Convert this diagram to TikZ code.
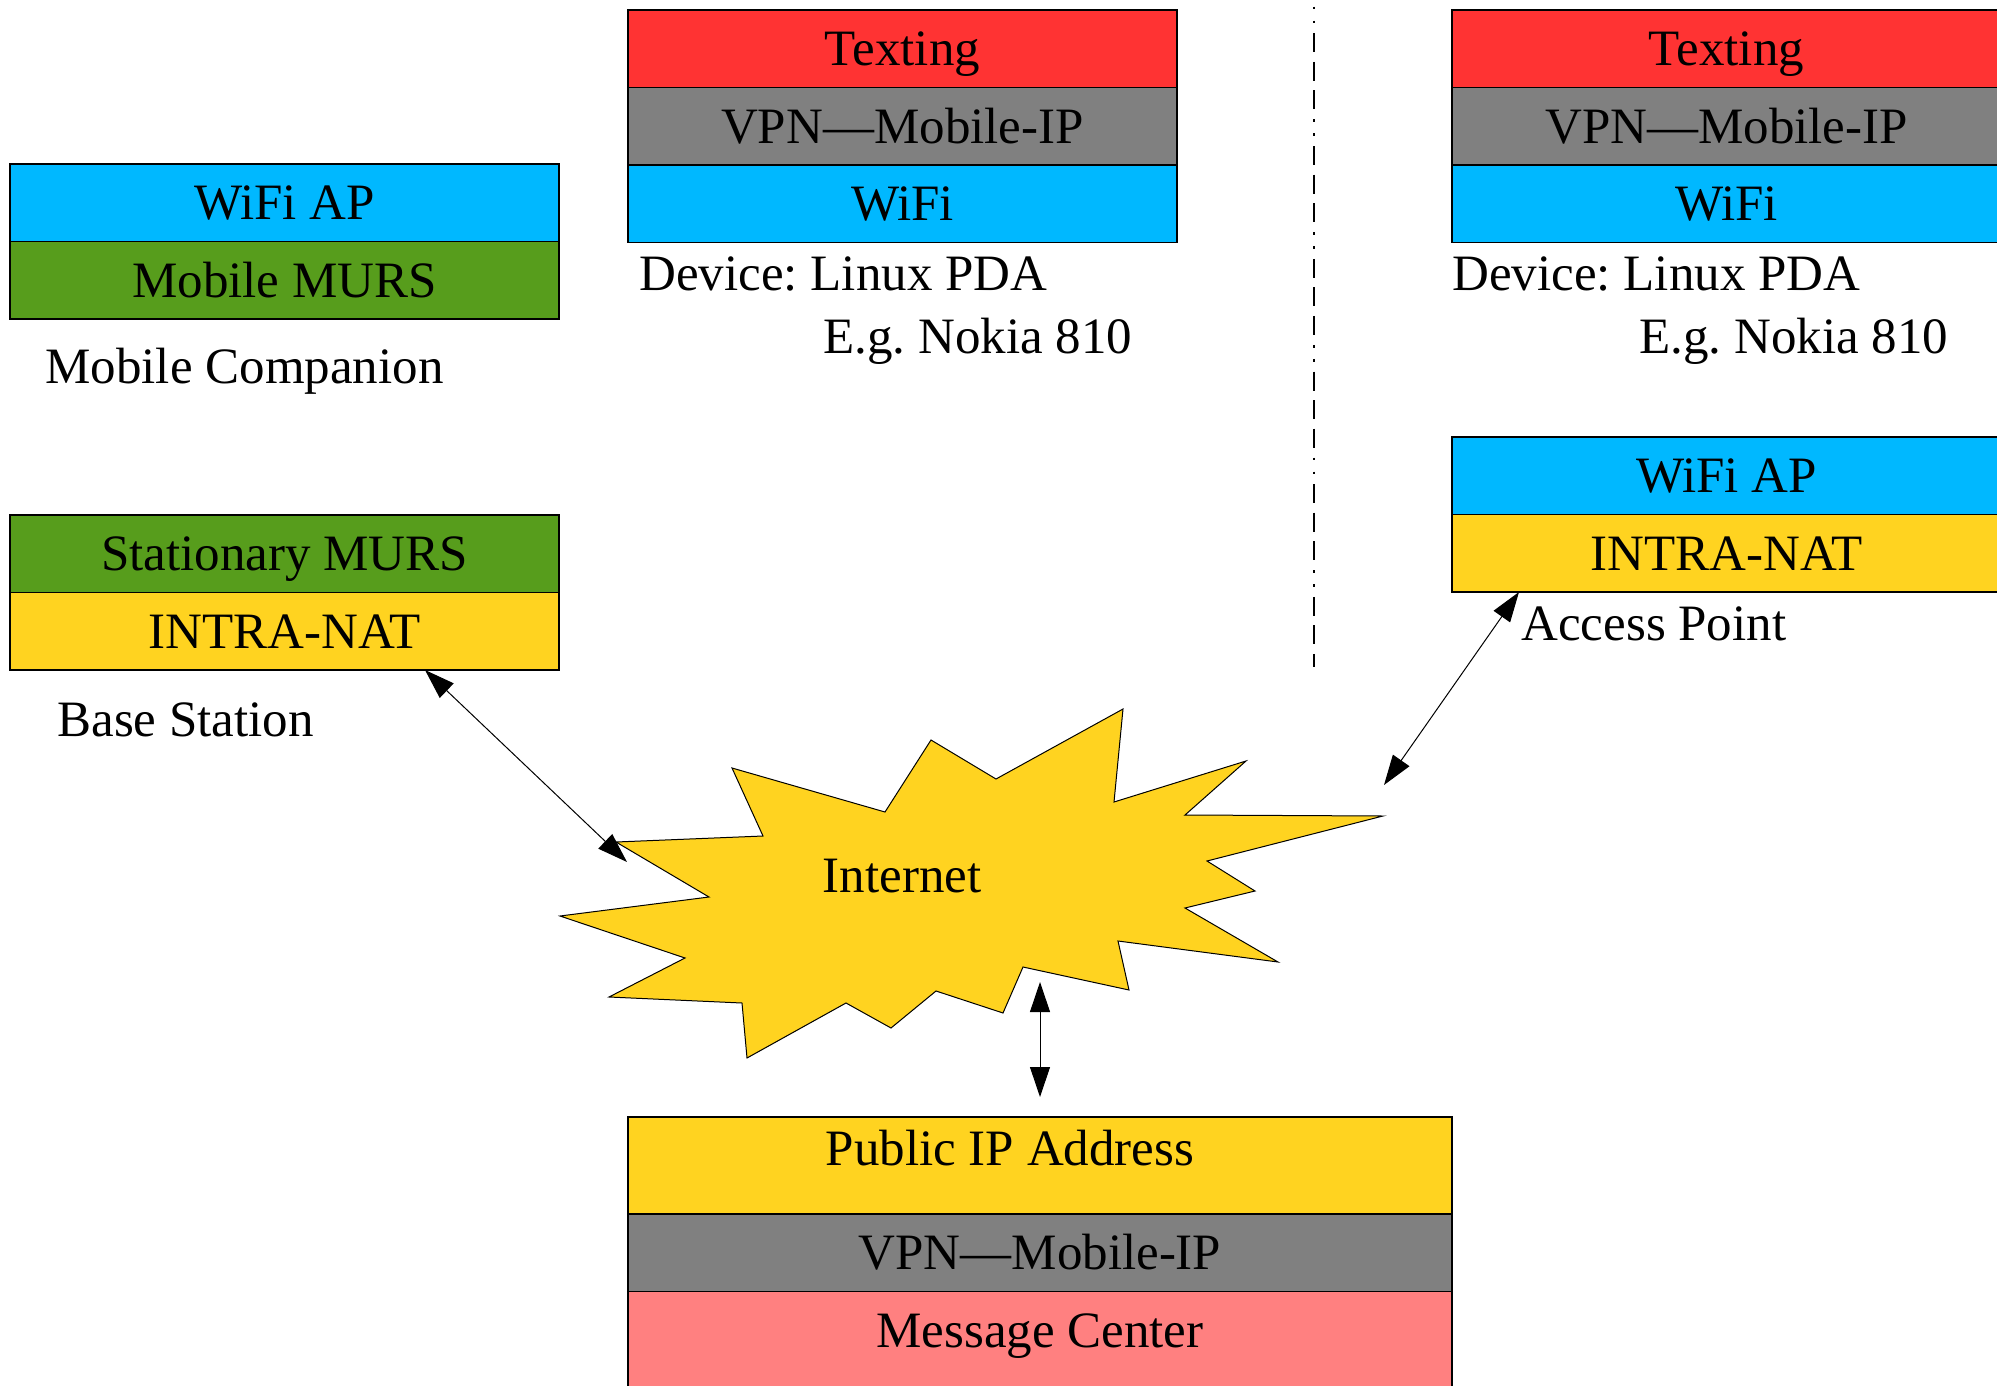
\documentclass[tikz,border=0pt]{standalone}
\usepackage{fontspec}
\setmainfont{Liberation Serif}
\usepackage{xcolor}
\usepackage{tikz}
\usetikzlibrary{positioning,calc,arrows.meta}
\frenchspacing

\definecolor{textred}{HTML}{FF3333}
\definecolor{vpngray}{HTML}{808080}
\definecolor{wifiblue}{HTML}{00B8FF}
\definecolor{mursgreen}{HTML}{579D1C}
\definecolor{natyellow}{HTML}{FFD320}
\definecolor{msgpink}{HTML}{FF8080}

\begin{document}
\begin{tikzpicture}[x=0.5pt,y=-0.5pt,
    font=\fontsize{25.5pt}{30pt}\selectfont,
    layer/.style={draw, line width=0.6pt, outer sep=0pt, inner sep=0pt,
      minimum width=274.5pt, minimum height=38.75pt, text height=17pt, text depth=0pt},
    wide/.style={layer, minimum width=412pt},
    tag/.style={anchor=base west, inner sep=0pt},
    link/.style={{Triangle[length=15pt,width=10pt]}-{Triangle[length=15pt,width=10pt]}, line width=0.5pt},
    divider/.style={line width=0.6pt, dash pattern=on 1.35pt off 5.65pt on 1.35pt off 5pt on 9.5pt off 4.75pt on 9.5pt off 4.75pt on 9.5pt off 5pt}]

  \useasboundingbox (0,0) rectangle (1997,1386);

  % mobile companion
  \node[layer, fill=wifiblue, anchor=north] (mwifi) at (284.5,164) {WiFi AP};
  \node[layer, fill=mursgreen, below=0pt of mwifi] (mmurs) {Mobile MURS};
  \node[tag] (mlabel) at (45,383) {Mobile Companion};

  % base station
  \node[layer, fill=mursgreen, anchor=north] (bmurs) at (284.5,515) {Stationary MURS};
  \node[layer, fill=natyellow, below=0pt of bmurs] (bnat) {INTRA-NAT};
  \node[tag] (blabel) at (57,736) {Base Station};

  % device in the middle
  \node[layer, fill=textred, anchor=north] (ctext) at (902.5,10) {Texting};
  \node[layer, fill=vpngray, below=0pt of ctext] (cvpn) {VPN—Mobile-IP};
  \node[layer, fill=wifiblue, below=0pt of cvpn] (cwifi) {WiFi};
  \node[tag] (cdev) at (639,290) {Device: Linux PDA};
  \node[tag] (cnok) at (823,353) {E.g. Nokia 810};

  % device on the right
  \node[layer, fill=textred, anchor=north] (rtext) at (1726.5,10) {Texting};
  \node[layer, fill=vpngray, below=0pt of rtext] (rvpn) {VPN—Mobile-IP};
  \node[layer, fill=wifiblue, below=0pt of rvpn] (rwifi) {WiFi};
  \node[tag] (rdev) at (1452,290) {Device: Linux PDA};
  \node[tag] (rnok) at (1639,353) {E.g. Nokia 810};

  % access point
  \node[layer, fill=wifiblue, anchor=north] (awifi) at (1726.5,437) {WiFi AP};
  \node[layer, fill=natyellow, below=0pt of awifi] (anat) {INTRA-NAT};
  \node[tag] (alabel) at (1521,640) {Access Point};

  % message center
  \node[wide, fill=natyellow, anchor=north, minimum height=48.5pt, text depth=17pt] (mpub) at (1040,1117) {Public IP Address\kern30pt};
  \node[wide, fill=vpngray, below=0pt of mpub] (mvpn) {VPN—Mobile-IP};
  \node[wide, fill=msgpink, below=0pt of mvpn, minimum height=48.5pt, text depth=9.5pt] (mcen) {Message Center};

  % internet
  \draw[fill=natyellow, line width=0.5pt] (616,842) -- (763,836) -- (732,768) -- (885,812)
    -- (931,740) -- (996,779) -- (1123,709) -- (1114,802) -- (1246,761) -- (1185,815)
    -- (1383,816) -- (1207,861) -- (1255,891) -- (1185,908) -- (1278,962) -- (1118,941)
    -- (1129,990) -- (1023,967) -- (1003,1013) -- (936,991) -- (891,1028) -- (846,1003)
    -- (747,1058) -- (742,1003) -- (609,997) -- (685,958) -- (560,916) -- (709,897) -- cycle;
  \node[text height=17pt, text depth=0pt] (net) at (902,875) {Internet};

  \draw[divider] (1314,6.7) -- (1314,667);

  % links
  \coordinate (netW) at (627,862);
  \coordinate (netE) at (1384,785);
  \coordinate (netS) at (1040,982);
  \draw[link] ($(bnat.south west)+(415,0)$) -- (netW);
  \draw[link] ($(anat.south west)+(67,0)$) -- (netE);
  \draw[link] (netS) -- ($(mpub.north)+(0,-20)$);
\end{tikzpicture}
\end{document}
